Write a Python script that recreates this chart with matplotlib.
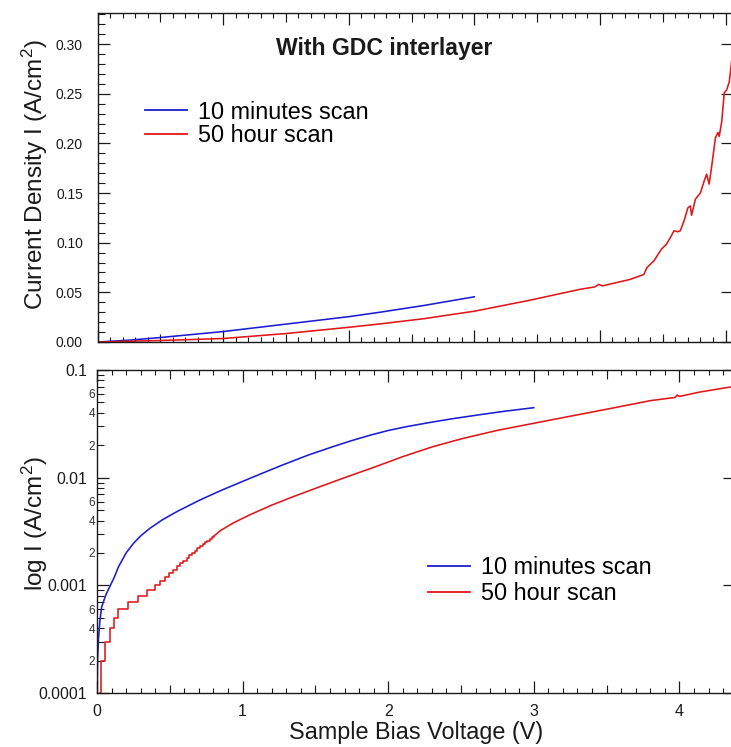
import numpy as np
import matplotlib
matplotlib.use("Agg")
import matplotlib.pyplot as plt
from matplotlib.lines import Line2D
from matplotlib.ticker import (MultipleLocator, FixedLocator, FixedFormatter,
                               LogLocator, FuncFormatter)

plt.rcParams['font.family'] = ['Liberation Sans', 'DejaVu Sans']
plt.rcParams['mathtext.fontset'] = 'custom'
plt.rcParams['mathtext.rm'] = 'Liberation Sans'
plt.rcParams['mathtext.it'] = 'Liberation Sans:italic'

# ---------------- data ----------------
series_labels = ["10 minutes scan", "50 hour scan"]
title_text = "With GDC interlayer"

# linear panel, current density (A/cm^2) vs bias (V)
lin_blue_v = [0.0, 0.25, 0.5, 0.75, 1.0, 1.5, 2.0, 2.25, 2.6, 3.0]
lin_blue_i = [0.0, 0.0018, 0.0045, 0.0075, 0.0105, 0.0180, 0.0255, 0.0300, 0.0368, 0.0455]

lin_red_v = [0.0, 0.5, 1.0, 1.5, 2.0, 2.25, 2.6, 3.0, 3.44, 3.84, 3.96, 3.99, 4.02,
             4.24, 4.35, 4.375, 4.43, 4.49, 4.53, 4.56, 4.59, 4.62, 4.64, 4.67, 4.70,
             4.72, 4.73, 4.76, 4.78, 4.80, 4.83, 4.85, 4.87, 4.89, 4.92, 4.94, 4.95,
             4.97, 4.99, 5.01, 5.03, 5.05, 5.07]
lin_red_i = [0.0, 0.0015, 0.0035, 0.0085, 0.0148, 0.0182, 0.0235, 0.0310, 0.0420, 0.0530,
             0.0555, 0.0580, 0.0565, 0.0630, 0.0680, 0.0750, 0.0817, 0.0935, 0.0985,
             0.1050, 0.1120, 0.1110, 0.1120, 0.1220, 0.1350, 0.1370, 0.1276, 0.1437,
             0.1470, 0.1500, 0.1620, 0.1690, 0.1590, 0.1770, 0.2057, 0.2110, 0.2070,
             0.2220, 0.2510, 0.2540, 0.2620, 0.2840, 0.3000]

# log panel
log_blue_v = [0.001, 0.004, 0.01, 0.02, 0.032, 0.06, 0.089, 0.12, 0.147, 0.2, 0.25, 0.3,
              0.364, 0.45, 0.548, 0.63, 0.708, 0.85, 1.0, 1.15, 1.28, 1.45, 1.625, 1.75,
              1.876, 2.0, 2.13, 2.266, 2.43, 2.61, 2.8, 3.0]
log_blue_i = [1.0e-4, 2.0e-4, 3.16e-4, 4.68e-4, 6.3e-4, 8.1e-4, 9.8e-4, 1.2e-3, 1.48e-3,
              2.0e-3, 2.45e-3, 2.88e-3, 3.39e-3, 4.07e-3, 4.83e-3, 5.5e-3, 6.21e-3,
              7.59e-3, 9.23e-3, 0.0112, 0.0132, 0.0162, 0.0195, 0.0221, 0.0248, 0.02742,
              0.02985, 0.03221, 0.03508, 0.03811, 0.04140, 0.04467]

# quantised low-current part of the 50 h scan (instrument resolution 1e-4)
log_red_step_v = [0.024, 0.027, 0.058, 0.087, 0.117, 0.147, 0.215, 0.280, 0.341, 0.399,
                  0.433, 0.467, 0.495, 0.524, 0.548, 0.570, 0.593, 0.616, 0.635, 0.655,
                  0.672, 0.690, 0.708, 0.725, 0.742, 0.758, 0.775, 0.791, 0.807]
log_red_step_i = [1e-4, 2e-4, 3e-4, 4e-4, 5e-4, 6e-4, 7e-4, 8e-4, 9e-4, 1.0e-3,
                  1.1e-3, 1.2e-3, 1.3e-3, 1.4e-3, 1.5e-3, 1.6e-3, 1.7e-3, 1.8e-3, 1.9e-3,
                  2.0e-3, 2.1e-3, 2.2e-3, 2.3e-3, 2.4e-3, 2.5e-3, 2.6e-3, 2.7e-3, 2.8e-3,
                  2.9e-3]
log_red_v = [0.807, 0.85, 0.937, 1.05, 1.2, 1.35, 1.51, 1.7, 1.9, 2.1, 2.3, 2.5, 2.75,
             3.0, 3.25, 3.5, 3.8, 3.97, 3.985, 4.0, 4.14, 4.35, 4.40]
log_red_i = [2.9e-3, 3.24e-3, 3.80e-3, 4.52e-3, 5.56e-3, 6.68e-3, 8.04e-3, 0.0100,
             0.01245, 0.01567, 0.01928, 0.0229, 0.0275, 0.0320, 0.0372, 0.0432, 0.0519,
             0.0556, 0.0586, 0.0568, 0.0624, 0.0695, 0.0712]

lin_yticks = [0.00, 0.05, 0.10, 0.15, 0.20, 0.25, 0.30]
lin_ytick_labels = ["0.00", "0.05", "0.10", "0.15", "0.20", "0.25", "0.30"]
log_yticks = [1e-4, 1e-3, 1e-2, 1e-1]
log_ytick_labels = ["0.0001", "0.001", "0.01", "0.1"]

BLUE = "#1c1cd2"
RED = "#e0161b"
INK = "#1a1a1a"

# ---------------- layout ----------------
W, H = 731, 747
fig = plt.figure(figsize=(W / 100, H / 100), dpi=100)


def px_rect(l, t, r, b):
    return [l / W, 1 - b / H, (r - l) / W, (b - t) / H]


ax1 = fig.add_axes(px_rect(97.5, 13.3, 733, 342))
ax2 = fig.add_axes(px_rect(97, 370, 735, 693))

ax1.set_xlim(0, (733 - 97.5) / 125.6)
ax1.set_ylim(0, 0.331)
ax2.set_xlim(0, (735 - 97) / 145.6)
ax2.set_yscale('log')
ax2.set_ylim(1e-4, 1e-1)

lw = 1.15
ax1.plot(lin_blue_v, lin_blue_i, color=BLUE, lw=lw, solid_joinstyle='round')
ax1.plot(lin_red_v, lin_red_i, color=RED, lw=lw, solid_joinstyle='round')
ax2.plot(log_blue_v, log_blue_i, color=BLUE, lw=lw, solid_joinstyle='round')
ax2.plot(log_red_step_v, log_red_step_i, color=RED, lw=lw, drawstyle='steps-post')
ax2.plot(log_red_v, log_red_i, color=RED, lw=lw, solid_joinstyle='round')

PT = 100 / 72.0  # pixels per point
for ax in (ax1, ax2):
    for s in ax.spines.values():
        s.set_linewidth(1.0)
        s.set_color(INK)
    ax.xaxis.set_major_locator(MultipleLocator(1))
    ax.xaxis.set_minor_locator(MultipleLocator(0.1))
    ax.tick_params(which='both', direction='in', top=True, right=True, color=INK)
    ax.tick_params(which='major', length=12 / PT, width=0.9)
    ax.tick_params(which='minor', length=5 / PT, width=0.8)
    ax.tick_params(axis='y', which='minor', right=False)
    # half-volt ticks of intermediate length
    xmax = ax.get_xlim()[1]
    for side in ('top', 'bottom'):
        sec = ax.secondary_xaxis(side)
        sec.set_xticks(np.arange(0.5, xmax, 1.0))
        sec.tick_params(direction='in', length=8.5 / PT, width=0.8, color=INK,
                        labeltop=False, labelbottom=False)
        for s in sec.spines.values():
            s.set_visible(False)

# linear panel ticks
ax1.yaxis.set_major_locator(FixedLocator(lin_yticks))
ax1.yaxis.set_major_formatter(FixedFormatter(lin_ytick_labels))
ax1.yaxis.set_minor_locator(MultipleLocator(0.01))
ax1.tick_params(axis='y', which='minor', length=7 / PT)
ax1.tick_params(axis='x', labelbottom=False)
ax1.tick_params(axis='y', labelsize=10, pad=10.5, labelcolor=INK)

# log panel ticks
ax2.yaxis.set_major_locator(FixedLocator(log_yticks))
ax2.yaxis.set_major_formatter(FixedFormatter(log_ytick_labels))
ax2.yaxis.set_minor_locator(LogLocator(base=10, subs=np.arange(2, 10)))


def minor_label(v, pos):
    m = int(round(v / 10 ** np.floor(np.log10(v) + 1e-9)))
    return str(m) if m in (2, 4, 6) else ""


ax2.yaxis.set_minor_formatter(FuncFormatter(minor_label))
ax2.tick_params(axis='y', which='major', labelsize=11.3, pad=7, labelcolor=INK)
ax2.tick_params(axis='y', which='minor', labelsize=8.5, pad=1.5, length=7 / PT,
                labelcolor='#333333')
ax2.tick_params(axis='x', which='major', labelsize=11.5, pad=8, labelcolor=INK)

# labels and title
fig.text(35 / W, 1 - 175 / H, "Current Density I (A/cm$^{2}$)", rotation=90,
         ha='center', va='center', fontsize=17.5, color=INK)
fig.text(35 / W, 1 - 524 / H, "log I (A/cm$^{2}$)", rotation=90,
         ha='center', va='center', fontsize=17.5, color=INK)
fig.text(416 / W, 1 - 733 / H, "Sample Bias Voltage (V)", ha='center', va='center',
         fontsize=16.8, color=INK)
fig.text(384 / W, 1 - 48 / H, title_text, ha='center', va='center', fontsize=16.6,
         fontweight='bold', color=INK)

handles = [Line2D([], [], color=BLUE, lw=1.3), Line2D([], [], color=RED, lw=1.3)]
common = dict(loc='center left', bbox_transform=fig.transFigure, frameon=False,
              fontsize=16.8, handlelength=1.8, handletextpad=0.45, borderpad=0,
              borderaxespad=0)
ax1.legend(handles, series_labels, bbox_to_anchor=(145 / W, 1 - 124 / H),
           labelspacing=0.03, **common)
ax2.legend(handles, series_labels, bbox_to_anchor=(428 / W, 1 - 580.5 / H),
           labelspacing=0.115, **common)

fig.savefig("out.png", dpi=100)
